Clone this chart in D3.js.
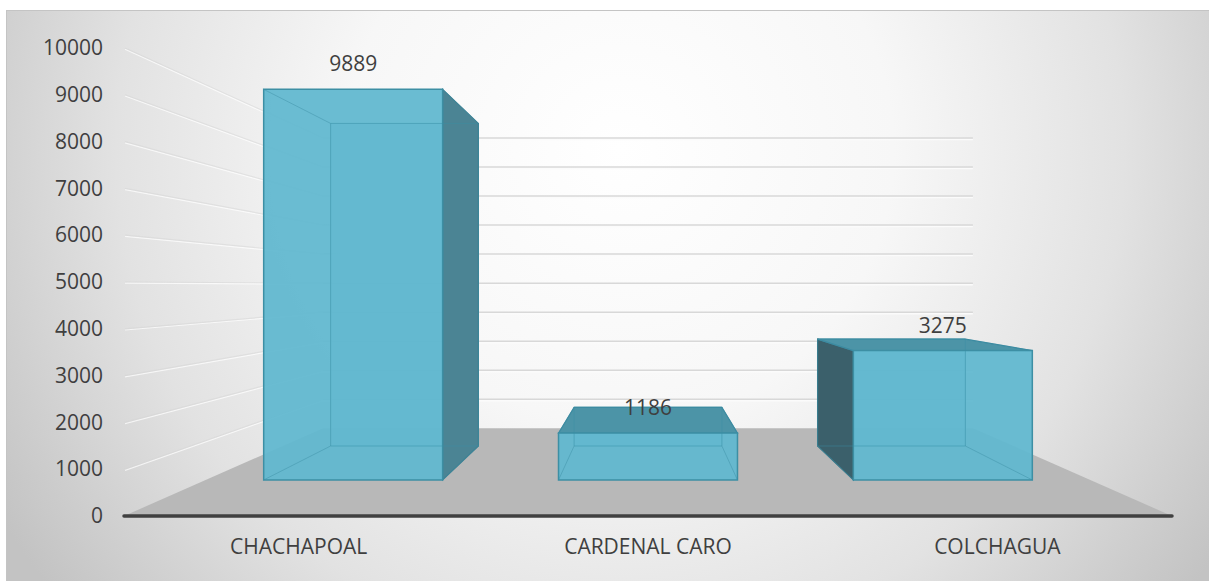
<!DOCTYPE html>
<html>
<head>
<meta charset="utf-8">
<script src="https://cdn.jsdelivr.net/npm/d3@7"></script>
<style>
    body { margin: 0; background: #fff; }
    text { font-family: "Open Sans", sans-serif; fill: #3f3f3f; }
</style>
</head>
<body>
<script>
    // data
    var categories = ["CHACHAPOAL", "CARDENAL CARO", "COLCHAGUA"];
    var values = [9889, 1186, 3275];
    var yTicks = [0, 1000, 2000, 3000, 4000, 5000, 6000, 7000, 8000, 9000, 10000];

    var W = 1209, H = 581;

    // front plane of the 3d box
    var plotLeft = 124, plotRight = 1172, plotBase = 516, plotTop = 48;
    // vanishing point and depth factors (1 = front, smaller = further back)
    var vp = {x: 648, y: 285};
    var depth = {front: 1, barFront: 0.844, barBack: 0.697, back: 0.62};

    var x = d3.scaleBand().domain(categories).range([plotLeft, plotRight])
        .paddingInner(0.393).paddingOuter(0.1965);
    var y = d3.scaleLinear().domain([0, 10000]).range([plotBase, plotTop]);

    function P(px, py, s) {
        return [vp.x + (px - vp.x) * s, vp.y + (py - vp.y) * s];
    }
    var line = d3.line();

    var svg = d3.select("body").append("svg")
        .attr("width", W).attr("height", H);

    // background gradient
    var defs = svg.append("defs");
    var grad = defs.append("radialGradient").attr("id", "bg")
        .attr("gradientUnits", "userSpaceOnUse")
        .attr("cx", 620).attr("cy", 150).attr("r", 720);
    grad.append("stop").attr("offset", "0").attr("stop-color", "#ffffff");
    grad.append("stop").attr("offset", "0.38").attr("stop-color", "#f7f7f7");
    grad.append("stop").attr("offset", "0.7").attr("stop-color", "#e2e2e2");
    grad.append("stop").attr("offset", "1").attr("stop-color", "#c3c3c3");

    svg.append("rect")
        .attr("x", 6.5).attr("y", 10.5)
        .attr("width", W - 6).attr("height", H - 10)
        .attr("fill", "url(#bg)")
        .attr("stroke", "#c4c4c4");

    // gridlines: side wall (faint) and back wall
    var grid = svg.append("g").attr("fill", "none");
    yTicks.slice(1).forEach(function(v) {
        var a = [plotLeft + 1, y(v)], b = P(plotLeft, y(v), depth.back), c = P(plotRight, y(v), depth.back);
        grid.append("path")
            .attr("d", line([[a[0], a[1] + 1.2], [b[0], b[1] + 1.2]]))
            .attr("stroke", "#ffffff").attr("stroke-opacity", 0.7).attr("stroke-width", 1.2);
        grid.append("path")
            .attr("d", line([a, b]))
            .attr("stroke", "#d2d2d2").attr("stroke-opacity", 0.45).attr("stroke-width", 1.2);
        grid.append("path")
            .attr("d", line([[b[0], b[1] + 1.5], [c[0], c[1] + 1.5]]))
            .attr("stroke", "#fbfbfb").attr("stroke-width", 1.5);
        grid.append("path")
            .attr("d", line([b, c]))
            .attr("stroke", "#d8d8d8").attr("stroke-width", 1.5);
    });

    // floor
    svg.append("path")
        .attr("d", line([
            P(plotLeft, plotBase, depth.front), P(plotRight, plotBase, depth.front),
            P(plotRight, plotBase, depth.back), P(plotLeft, plotBase, depth.back)
        ]) + "Z")
        .attr("fill", "#b8b8b8");

    // axis line
    svg.append("line")
        .attr("x1", plotLeft).attr("x2", plotRight)
        .attr("y1", plotBase).attr("y2", plotBase)
        .attr("stroke", "#404040").attr("stroke-width", 3.5)
        .attr("stroke-linecap", "round");

    // axes text
    svg.append("g")
        .attr("transform", "translate(113,0)")
        .call(d3.axisLeft(y).tickValues(yTicks).tickSize(0).tickPadding(10).tickFormat(d3.format("d")))
        .call(function(g) { g.select(".domain").remove(); })
        .selectAll("text")
        .style("font-size", "21px").attr("fill", "#3f3f3f");

    svg.append("g")
        .attr("transform", "translate(0," + plotBase + ")")
        .call(d3.axisBottom(x).tickSize(0).tickPadding(23))
        .call(function(g) { g.select(".domain").remove(); })
        .selectAll("text")
        .style("font-size", "21px").attr("fill", "#3f3f3f");

    // bars
    var f = depth.barFront, bk = depth.barBack;
    categories.forEach(function(cat, i) {
        var x0 = x(cat), x1 = x0 + x.bandwidth();
        var y0 = y(0), y1 = y(values[i]);
        var g = svg.append("g");

        var front = [P(x0, y1, f), P(x1, y1, f), P(x1, y0, f), P(x0, y0, f)];
        var back = [P(x0, y1, bk), P(x1, y1, bk), P(x1, y0, bk), P(x0, y0, bk)];
        var rightFace = [P(x1, y1, f), P(x1, y1, bk), P(x1, y0, bk), P(x1, y0, f)];
        var leftFace = [P(x0, y1, f), P(x0, y1, bk), P(x0, y0, bk), P(x0, y0, f)];
        var topFace = [P(x0, y1, f), P(x1, y1, f), P(x1, y1, bk), P(x0, y1, bk)];

        // back face
        g.append("path").attr("d", line(back) + "Z")
            .attr("fill", "#5aaec4").attr("fill-opacity", 0.6)
            .attr("stroke", "#3d8fa4").attr("stroke-width", 1);

        // visible side / top faces
        if (x1 < vp.x) {
            g.append("path").attr("d", line(rightFace) + "Z")
                .attr("fill", "#4b8494").attr("stroke", "#3e7f90").attr("stroke-width", 1.2);
        }
        if (x0 > vp.x) {
            g.append("path").attr("d", line(leftFace) + "Z")
                .attr("fill", "#3b606b").attr("stroke", "#37707f").attr("stroke-width", 1.2);
        }
        if (y1 > vp.y) {
            g.append("path").attr("d", line(topFace) + "Z")
                .attr("fill", "#4c94a7").attr("stroke", "#3d8aa0").attr("stroke-width", 1.2);
        }

        // front face
        g.append("path").attr("d", line(front) + "Z")
            .attr("fill", "#61b8cf").attr("fill-opacity", 0.94)
            .attr("stroke", "#3d8fa4").attr("stroke-width", 1.5);

        // hidden edges seen through the glass
        var edges = g.append("g").attr("stroke", "#3b8ea4").attr("stroke-opacity", 0.45)
            .attr("stroke-width", 1).attr("fill", "none");
        edges.append("path").attr("d", line(back) + "Z");
        for (var k = 0; k < 4; k++) {
            edges.append("path").attr("d", line([front[k], back[k]]));
        }

        // value label
        var lp = P(x0 + x.bandwidth() / 2, y1, f);
        svg.append("text")
            .attr("x", lp[0]).attr("y", lp[1] - 26)
            .attr("text-anchor", "middle")
            .attr("dominant-baseline", "central")
            .style("font-size", "21px")
            .text(values[i]);
    });
</script>
</body>
</html>
